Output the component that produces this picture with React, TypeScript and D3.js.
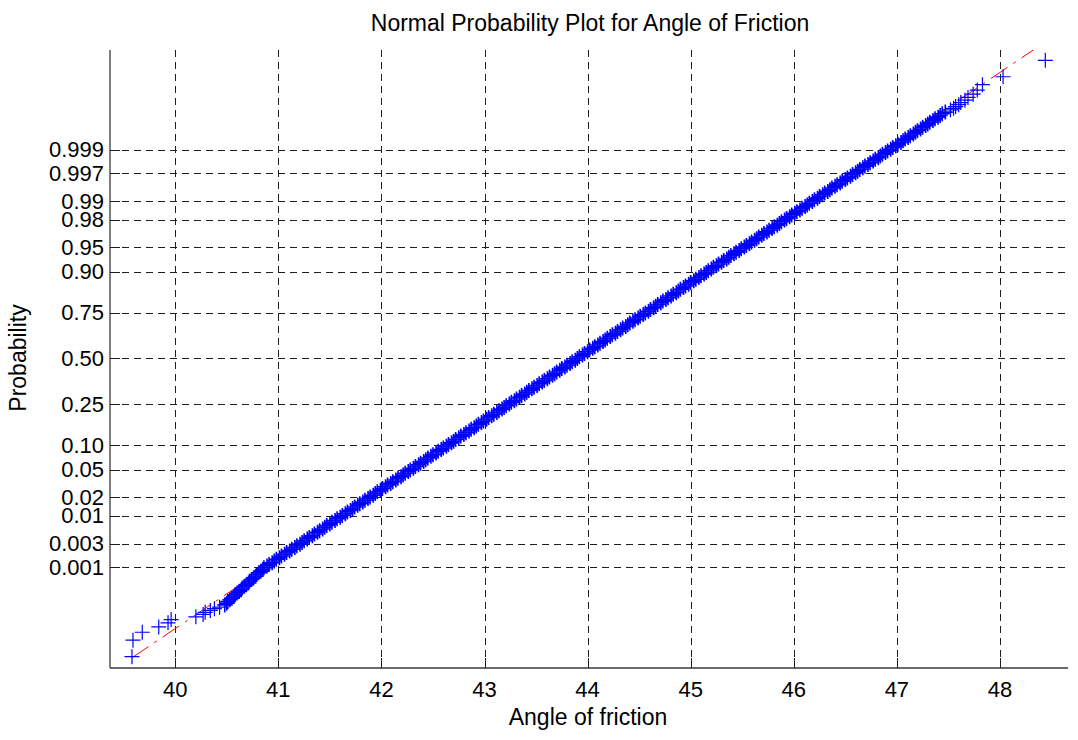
import React from 'react';
import * as d3 from 'd3';

// Normal probability plot of 100 000 friction-angle samples.
const sampleSize = 100000;

const xTicks = [40, 41, 42, 43, 44, 45, 46, 47, 48];
const probTicks = [0.001, 0.003, 0.01, 0.02, 0.05, 0.1, 0.25, 0.5, 0.75, 0.9, 0.95, 0.98, 0.99, 0.997, 0.999];
const probTickLabels = ['0.001', '0.003', '0.01', '0.02', '0.05', '0.10', '0.25', '0.50', '0.75', '0.90', '0.95', '0.98', '0.99', '0.997', '0.999'];

// Smallest order statistics, ranks 1, 2, 3, ...
const lowestAngles = [39.58, 39.59, 39.68, 39.84, 39.93, 39.96, 40.2, 40.27, 40.29, 40.34, 40.38, 40.43];
// Largest order statistics, ranks n, n-1, n-2, ...
const highestAngles = [48.44, 48.03, 47.83, 47.78, 47.74, 47.69, 47.66, 47.62, 47.6, 47.57, 47.55, 47.52];

// Sample quantiles of the main body, one per step of the normal score
const bodyScoreStart = -3.65;
const bodyScoreStep = 0.025;
const bodyAngles = [
  40.48, 40.50, 40.51, 40.53, 40.55, 40.57, 40.58, 40.60, 40.62, 40.64, 40.65, 40.67, 40.69, 40.71, 40.72, 40.74,
  40.76, 40.78, 40.79, 40.81, 40.83, 40.85, 40.86,
  40.89, 40.91, 40.94, 40.96, 40.98, 41.01, 41.03, 41.06, 41.08, 41.11,
  41.13, 41.16, 41.18, 41.21, 41.23, 41.25, 41.28, 41.30, 41.33, 41.35,
  41.38, 41.40, 41.43, 41.45, 41.47, 41.50, 41.52, 41.55, 41.57, 41.60,
  41.62, 41.65, 41.67, 41.70, 41.72, 41.74, 41.77, 41.79, 41.82, 41.84,
  41.87, 41.89, 41.92, 41.94, 41.96, 41.99, 42.01, 42.04, 42.06, 42.09,
  42.11, 42.14, 42.16, 42.19, 42.21, 42.23, 42.26, 42.28, 42.31, 42.33,
  42.36, 42.38, 42.41, 42.43, 42.45, 42.48, 42.50, 42.53, 42.55, 42.58,
  42.60, 42.63, 42.65, 42.68, 42.70, 42.72, 42.75, 42.77, 42.80, 42.82,
  42.85, 42.87, 42.90, 42.92, 42.94, 42.97, 42.99, 43.02, 43.04, 43.07,
  43.09, 43.12, 43.14, 43.17, 43.19, 43.21, 43.24, 43.26, 43.29, 43.31,
  43.34, 43.36, 43.39, 43.41, 43.43, 43.46, 43.48, 43.51, 43.53, 43.56,
  43.58, 43.61, 43.63, 43.66, 43.68, 43.70, 43.73, 43.75, 43.78, 43.80,
  43.83, 43.85, 43.88, 43.90,
  43.92, 43.95, 43.97, 44.00, 44.02, 44.05,
  44.07, 44.10, 44.12, 44.15, 44.17, 44.19, 44.22, 44.24, 44.27, 44.29,
  44.32, 44.34, 44.37, 44.39, 44.41, 44.44, 44.46, 44.49, 44.51, 44.54,
  44.56, 44.59, 44.61, 44.64, 44.66, 44.68, 44.71, 44.73, 44.76, 44.78,
  44.81, 44.83, 44.86, 44.88, 44.90, 44.93, 44.95, 44.98, 45.00, 45.03,
  45.05, 45.08, 45.10, 45.13, 45.15, 45.17, 45.20, 45.22, 45.25, 45.27,
  45.30, 45.32, 45.35, 45.37, 45.39, 45.42, 45.44, 45.47, 45.49, 45.52,
  45.54, 45.57, 45.59, 45.62, 45.64, 45.66, 45.69, 45.71, 45.74, 45.76,
  45.79, 45.81, 45.84, 45.86, 45.88, 45.91, 45.93, 45.96, 45.98, 46.01,
  46.03, 46.06, 46.08, 46.11, 46.13, 46.15, 46.18, 46.20, 46.23, 46.25,
  46.28, 46.30, 46.33, 46.35, 46.37, 46.40, 46.42, 46.45, 46.47, 46.50,
  46.52, 46.55, 46.57, 46.60, 46.62, 46.64, 46.67, 46.69, 46.72, 46.74,
  46.77, 46.79, 46.82, 46.84, 46.86, 46.89, 46.91,
  46.94, 46.96, 46.99, 47.01, 47.04, 47.06, 47.08, 47.11, 47.13, 47.16,
  47.18, 47.20, 47.23, 47.25, 47.28, 47.30, 47.32, 47.35, 47.37, 47.40,
  47.42, 47.44, 47.47,
];

// First and third quartiles, which define the reference line
const quartileAngles = [43.23, 44.54];

// Inverse of the standard normal CDF (Acklam's rational approximation)
function normInv(p: number): number {
  const a = [-3.969683028665376e1, 2.209460984245205e2, -2.759285104469687e2, 1.38357751867269e2, -3.066479806614716e1, 2.506628277459239];
  const b = [-5.447609879822406e1, 1.615858368580409e2, -1.556989798598866e2, 6.680131188771972e1, -1.328068155288572e1];
  const c = [-7.784894002430293e-3, -3.223964580411365e-1, -2.400758277161838, -2.549732539343734, 4.374664141464968, 2.938163982698783];
  const d = [7.784695709041462e-3, 3.224671290700398e-1, 2.445134137142996, 3.754408661907416];
  const lo = 0.02425;
  if (p < lo) {
    const q = Math.sqrt(-2 * Math.log(p));
    return (((((c[0] * q + c[1]) * q + c[2]) * q + c[3]) * q + c[4]) * q + c[5]) / ((((d[0] * q + d[1]) * q + d[2]) * q + d[3]) * q + 1);
  }
  if (p <= 1 - lo) {
    const q = p - 0.5;
    const r = q * q;
    return ((((((a[0] * r + a[1]) * r + a[2]) * r + a[3]) * r + a[4]) * r + a[5]) * q) / (((((b[0] * r + b[1]) * r + b[2]) * r + b[3]) * r + b[4]) * r + 1);
  }
  const q = Math.sqrt(-2 * Math.log(1 - p));
  return -(((((c[0] * q + c[1]) * q + c[2]) * q + c[3]) * q + c[4]) * q + c[5]) / ((((d[0] * q + d[1]) * q + d[2]) * q + d[3]) * q + 1);
}

const W = 1078;
const H = 740;
const left = 110;
const right = 1068;
const top = 50;
const bottom = 668;

const FONT = '"Liberation Sans", Arial, Helvetica, sans-serif';

export default function App() {
  const x = d3.scaleLinear().domain([39.367, 48.66]).range([left, right]);
  const y = d3.scaleLinear().domain([-4.585, 4.57]).range([bottom, top]);

  // Plotting positions (i - 0.5) / n
  const pos = (rank: number) => normInv((rank - 0.5) / sampleSize);

  const tailPoints: { a: number; z: number }[] = [];
  lowestAngles.forEach((a, i) => tailPoints.push({ a, z: pos(i + 1) }));
  highestAngles.forEach((a, i) => tailPoints.push({ a, z: pos(sampleSize - i) }));
  const bodyPoints = bodyAngles.map((a, i) => ({ a, z: bodyScoreStart + i * bodyScoreStep }));

  const m = 7.5;
  const crosses = (pts: { a: number; z: number }[]) =>
    pts
      .map((p) => {
        const px = x(p.a);
        const py = y(p.z);
        return `M${px - m},${py}H${px + m}M${px},${py - m}V${py + m}`;
      })
      .join('');

  // Reference line through the quartiles, extended to the data extremes
  const zq = normInv(0.75);
  const mu = (quartileAngles[0] + quartileAngles[1]) / 2;
  const sigma = (quartileAngles[1] - quartileAngles[0]) / (2 * zq);
  const aMin = lowestAngles[0];
  const aMax = highestAngles[0];
  const line = d3.line<number>().x((a) => x(a)).y((a) => y((a - mu) / sigma));

  const gridDash = '7 5';

  return (
    <svg
      width={W}
      height={H}
      style={{ position: 'absolute', left: 0, top: 0, background: '#fff' }}
      fontFamily={FONT}
    >
      <defs>
        <clipPath id="plotArea">
          <rect x={left} y={top} width={right - left} height={bottom - top} />
        </clipPath>
      </defs>
      <rect x={0} y={0} width={W} height={H} fill="#fff" />

      {/* grid */}
      <g stroke="#1e1e1e" strokeWidth={1} strokeDasharray={gridDash}>
        {xTicks.map((t) => (
          <line key={`gx${t}`} x1={Math.round(x(t)) + 0.5} x2={Math.round(x(t)) + 0.5} y1={top} y2={bottom} />
        ))}
        {probTicks.map((p) => {
          const yy = Math.round(y(normInv(p))) + 0.5;
          return <line key={`gy${p}`} x1={left} x2={right} y1={yy} y2={yy} />;
        })}
      </g>

      {/* reference line */}
      <g clipPath="url(#plotArea)">
        <path d={line([aMin, aMax]) || ''} fill="none" stroke="#ff0000" strokeWidth={1} strokeDasharray="20 7 3 7" />
      </g>

      {/* data markers */}
      <path d={crosses(bodyPoints)} fill="none" stroke="#0000ff" strokeWidth={1.6} />
      <path d={crosses(tailPoints)} fill="none" stroke="#0000ff" strokeWidth={1.2} />

      {/* axes */}
      <g stroke="#3a3a3a" strokeWidth={1.3} fill="none">
        <line x1={left} x2={left} y1={top} y2={bottom} />
        <line x1={left} x2={right} y1={bottom} y2={bottom} />
      </g>
      <g stroke="#1e1e1e" strokeWidth={1}>
        {xTicks.map((t) => (
          <line key={`tx${t}`} x1={Math.round(x(t)) + 0.5} x2={Math.round(x(t)) + 0.5} y1={bottom} y2={bottom - 10} />
        ))}
        {probTicks.map((p) => {
          const yy = Math.round(y(normInv(p))) + 0.5;
          return <line key={`ty${p}`} x1={left} x2={left + 10} y1={yy} y2={yy} />;
        })}
      </g>

      {/* tick labels */}
      <g fontSize={22} fill="#000">
        {xTicks.map((t) => (
          <text key={`lx${t}`} x={x(t)} y={696.5} textAnchor="middle">
            {t}
          </text>
        ))}
        {probTicks.map((p, i) => (
          <text key={`ly${p}`} x={104} y={y(normInv(p)) + 7.5} textAnchor="end">
            {probTickLabels[i]}
          </text>
        ))}
      </g>

      {/* titles */}
      <text x={590} y={31} textAnchor="middle" fontSize={23} fill="#000">
        Normal Probability Plot for Angle of Friction
      </text>
      <text x={588} y={725} textAnchor="middle" fontSize={23} fill="#000">
        Angle of friction
      </text>
      <text transform="translate(26,358) rotate(-90)" textAnchor="middle" fontSize={23} fill="#000">
        Probability
      </text>
    </svg>
  );
}
